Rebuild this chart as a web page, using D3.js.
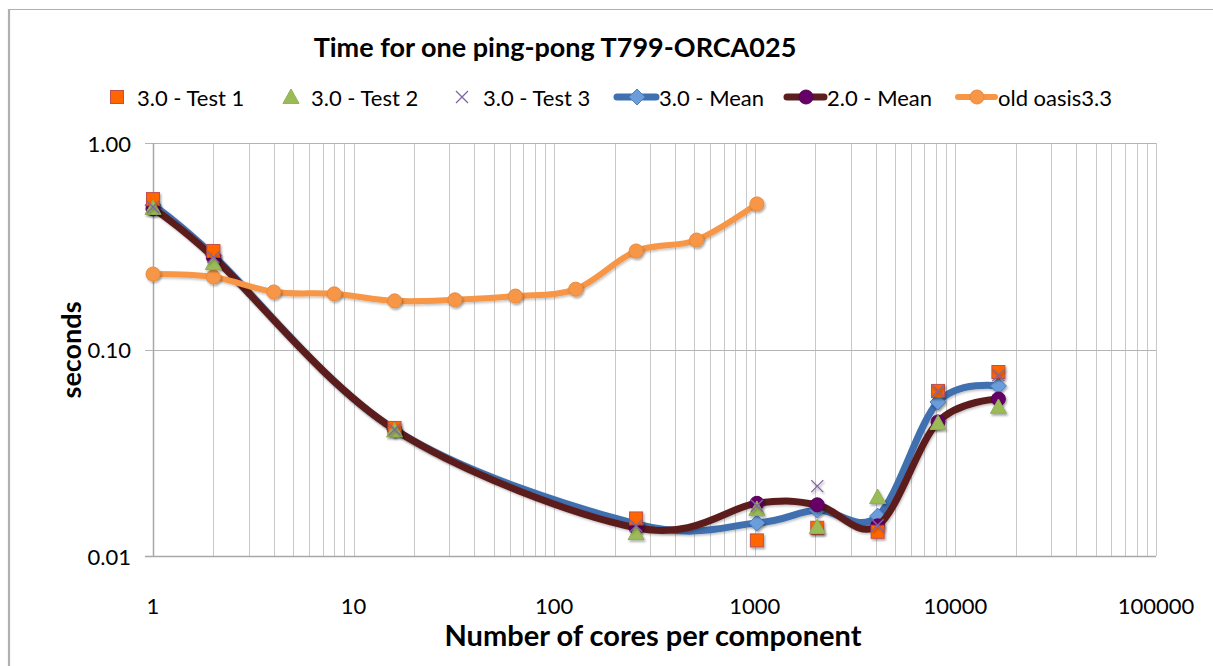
<!DOCTYPE html>
<html>
<head>
<meta charset="utf-8">
<script src="https://cdn.jsdelivr.net/npm/d3@7/dist/d3.min.js"></script>
<style>
html,body{margin:0;padding:0;background:#fff;}
svg{display:block;}
text{font-family:Lato,"Liberation Sans",sans-serif;fill:#000;}
</style>
</head>
<body>
<svg id="chart" width="1213" height="666"></svg>
<script>
// ---- data ----
const testCores = [1, 2, 16, 256, 1024, 2048, 4096, 8192, 16384];
const test1 = [0.535, 0.30, 0.0417, 0.0152, 0.0119, 0.0137, 0.0131, 0.063, 0.0778];
const test2 = [0.484, 0.262, 0.0405, 0.0129, 0.0169, 0.0138, 0.0193, 0.044, 0.0527];
const test3 = [0.49, 0.28, 0.041, 0.0140, 0.0175, 0.0218, 0.0141, 0.063, 0.075];
const mean30 = [0.50, 0.285, 0.041, 0.0143, 0.01445, 0.0167, 0.0156, 0.0557, 0.0666];
const mean20 = [0.48, 0.28, 0.041, 0.0137, 0.0180, 0.0177, 0.0140, 0.0446, 0.0576];
const oldCores = [1, 2, 4, 8, 16, 32, 64, 128, 256, 512, 1024];
const oldOasis = [0.232, 0.2245, 0.190, 0.186, 0.172, 0.174, 0.1815, 0.196, 0.300, 0.339, 0.507];
const seriesNames = ["3.0 - Test 1", "3.0 - Test 2", "3.0 - Test 3", "3.0 - Mean", "2.0 - Mean", "old oasis3.3"];
const xTickLabels = ["1", "10", "100", "1000", "10000", "100000"];
const yTickLabels = ["0.01", "0.10", "1.00"];
const titleText = "Time for one ping-pong T799-ORCA025";
const xTitle = "Number of cores per component";
const yTitle = "seconds";

// ---- layout ----
const svg = d3.select("#chart");
const W = 1213, H = 666;
const plot = {left: 153, right: 1156, top: 143, bottom: 556};

const x = d3.scaleLog().domain([1, 100000]).range([plot.left, plot.right]);
const y = d3.scaleLog().domain([0.01, 1]).range([plot.bottom, plot.top]);

svg.append("rect").attr("width", W).attr("height", H).attr("fill", "#fff");

const defs = svg.append("defs");
const f = defs.append("filter").attr("id", "sh").attr("x", "-50%").attr("y", "-50%").attr("width", "200%").attr("height", "200%");
f.append("feDropShadow").attr("dx", 1.2).attr("dy", 1.8).attr("stdDeviation", 1.2)
  .attr("flood-color", "#000").attr("flood-opacity", 0.35);
const fl = defs.append("filter").attr("id", "shl").attr("x", "-5%").attr("y", "-20%").attr("width", "110%").attr("height", "140%");
fl.append("feDropShadow").attr("dx", 1).attr("dy", 1.5).attr("stdDeviation", 1.2)
  .attr("flood-color", "#000").attr("flood-opacity", 0.25);

// chart border
svg.append("path").attr("d", `M${W + 5},9.5 H9 V${H + 5}`)
  .attr("fill", "none").attr("stroke", "#b0b0b0").attr("stroke-width", 1.2);
svg.append("line").attr("x1", 9).attr("x2", 9).attr("y1", 9).attr("y2", H + 5)
  .attr("stroke", "#b0b0b0").attr("stroke-width", 2.2);

// gridlines
const g = svg.append("g");
g.selectAll("line.vx").data(x.ticks()).enter().append("line")
  .attr("x1", d => Math.round(x(d)) + 0.5).attr("x2", d => Math.round(x(d)) + 0.5)
  .attr("y1", plot.top).attr("y2", plot.bottom)
  .attr("stroke", "#c8c8c8").attr("stroke-width", 1);
const yMajor = yTickLabels.map(Number);
g.selectAll("line.hy").data(yMajor).enter().append("line")
  .attr("x1", plot.left - 8).attr("x2", plot.right)
  .attr("y1", d => Math.round(y(d)) + 0.5).attr("y2", d => Math.round(y(d)) + 0.5)
  .attr("stroke", d => d === 0.01 ? "#a8a8a8" : "#b4b4b4").attr("stroke-width", d => d === 0.01 ? 1.5 : 1.2);
// axis line left
g.append("line").attr("x1", plot.left + 0.5).attr("x2", plot.left + 0.5)
  .attr("y1", plot.top).attr("y2", plot.bottom)
  .attr("stroke", "#a8a8a8").attr("stroke-width", 1.5);

// y tick labels
svg.selectAll("text.yl").data(yTickLabels).enter().append("text")
  .attr("x", 131).attr("y", d => y(+d)).attr("text-anchor", "end")
  .attr("dominant-baseline", "central").attr("font-size", 22).text(d => d);
// x tick labels
svg.selectAll("text.xl").data(xTickLabels).enter().append("text")
  .attr("x", d => x(+d)).attr("y", 605).attr("text-anchor", "middle")
  .attr("dominant-baseline", "central").attr("font-size", 22).text(d => d);

// titles
svg.append("text").attr("x", 555).attr("y", 46).attr("text-anchor", "middle")
  .attr("dominant-baseline", "central").attr("font-size", 27).attr("font-weight", "bold").text(titleText);
svg.append("text").attr("x", 653).attr("y", 634).attr("text-anchor", "middle")
  .attr("dominant-baseline", "central").attr("font-size", 29).attr("font-weight", "bold").text(xTitle);
svg.append("text").attr("transform", "translate(70,350) rotate(-90)").attr("text-anchor", "middle")
  .attr("dominant-baseline", "central").attr("font-size", 27).attr("font-weight", "bold").text(yTitle);

// ---- series ----
const curve = d3.curveCardinal.tension(0);
const line = d3.line().x(d => x(d[0])).y(d => y(d[1])).curve(curve);
const zip = (a, b) => a.map((v, i) => [v, b[i]]);

const styles = {
  mean30: {line: "#3f70b0", fill: "#6c9ddb", stroke: "#4a7fc0", width: 7},
  mean20: {line: "#5c1e1e", fill: "#660066", stroke: "#5a005a", width: 7},
  old: {line: "#f79646", fill: "#f79646", stroke: "#e98a3c", width: 6}
};

function drawLine(data, st) {
  svg.append("path").datum(data).attr("d", line).attr("fill", "none")
    .attr("stroke", st.line).attr("stroke-width", st.width).attr("stroke-linecap", "round")
    .attr("stroke-linejoin", "round").attr("filter", "url(#shl)");
}
const diamond = s => `M0,${-s}L${s},0L0,${s}L${-s},0Z`;
const tri = s => `M0,${-s}L${s},${s * 0.8}L${-s},${s * 0.8}Z`;

function markers(data, kind, st) {
  const gg = svg.append("g").attr("filter", "url(#sh)");
  const sel = gg.selectAll("g").data(data).enter().append("g")
    .attr("transform", d => `translate(${x(d[0])},${y(d[1])})`);
  drawMarker(sel, kind, st);
}
function drawMarker(sel, kind, st) {
  if (kind === "diamond") sel.append("path").attr("d", diamond(8)).attr("fill", st.fill).attr("stroke", st.stroke).attr("stroke-width", 1);
  if (kind === "circle") sel.append("circle").attr("r", st.r || 7).attr("fill", st.fill).attr("stroke", st.stroke).attr("stroke-width", 1);
  if (kind === "square") sel.append("rect").attr("x", -6.5).attr("y", -6.5).attr("width", 13).attr("height", 13)
    .attr("fill", "#ff6600").attr("stroke", "#c0504d").attr("stroke-width", 1);
  if (kind === "tri") sel.append("path").attr("d", tri(8)).attr("fill", "#9bbb59").attr("stroke", "#8fb050").attr("stroke-width", 1);
  if (kind === "x") sel.append("path").attr("d", "M-6,-6L6,6M-6,6L6,-6").attr("fill", "none").attr("stroke", "#8064a2").attr("stroke-width", 1.3);
}

const d30 = zip(testCores, mean30), d20 = zip(testCores, mean20), dOld = zip(oldCores, oldOasis);
drawLine(d30, styles.mean30); markers(d30, "diamond", styles.mean30);
drawLine(d20, styles.mean20); markers(d20, "circle", styles.mean20);
drawLine(dOld, styles.old); markers(dOld, "circle", Object.assign({r: 7}, styles.old));
markers(zip(testCores, test1), "square", {});
markers(zip(testCores, test2), "tri", {});
markers(zip(testCores, test3), "x", {});

// ---- legend ----
const legendY = 97;
const legendLayout = [
  {kind: "square", mx: 117, tx: 137},
  {kind: "tri", mx: 291, tx: 311},
  {kind: "x", mx: 462, tx: 483},
  {kind: "diamond", mx: 637, tx: 659, line: [617, 656], st: styles.mean30},
  {kind: "circle", mx: 806, tx: 827, line: [787, 824], st: styles.mean20},
  {kind: "circle", mx: 977, tx: 998, line: [958, 995], st: styles.old}
];
legendLayout.forEach((it, i) => {
  const lg = svg.append("g");
  if (it.line) {
    lg.append("line").attr("x1", it.line[0]).attr("x2", it.line[1]).attr("y1", legendY).attr("y2", legendY)
      .attr("stroke", it.st.line).attr("stroke-width", it.st.width).attr("stroke-linecap", "round");
  }
  const m = lg.append("g").attr("transform", `translate(${it.mx},${legendY})`);
  drawMarker(m, it.kind, it.st || {});
  lg.append("text").attr("x", it.tx).attr("y", legendY).attr("dominant-baseline", "central")
    .attr("font-size", 22).text(seriesNames[i]);
});
</script>
</body>
</html>
